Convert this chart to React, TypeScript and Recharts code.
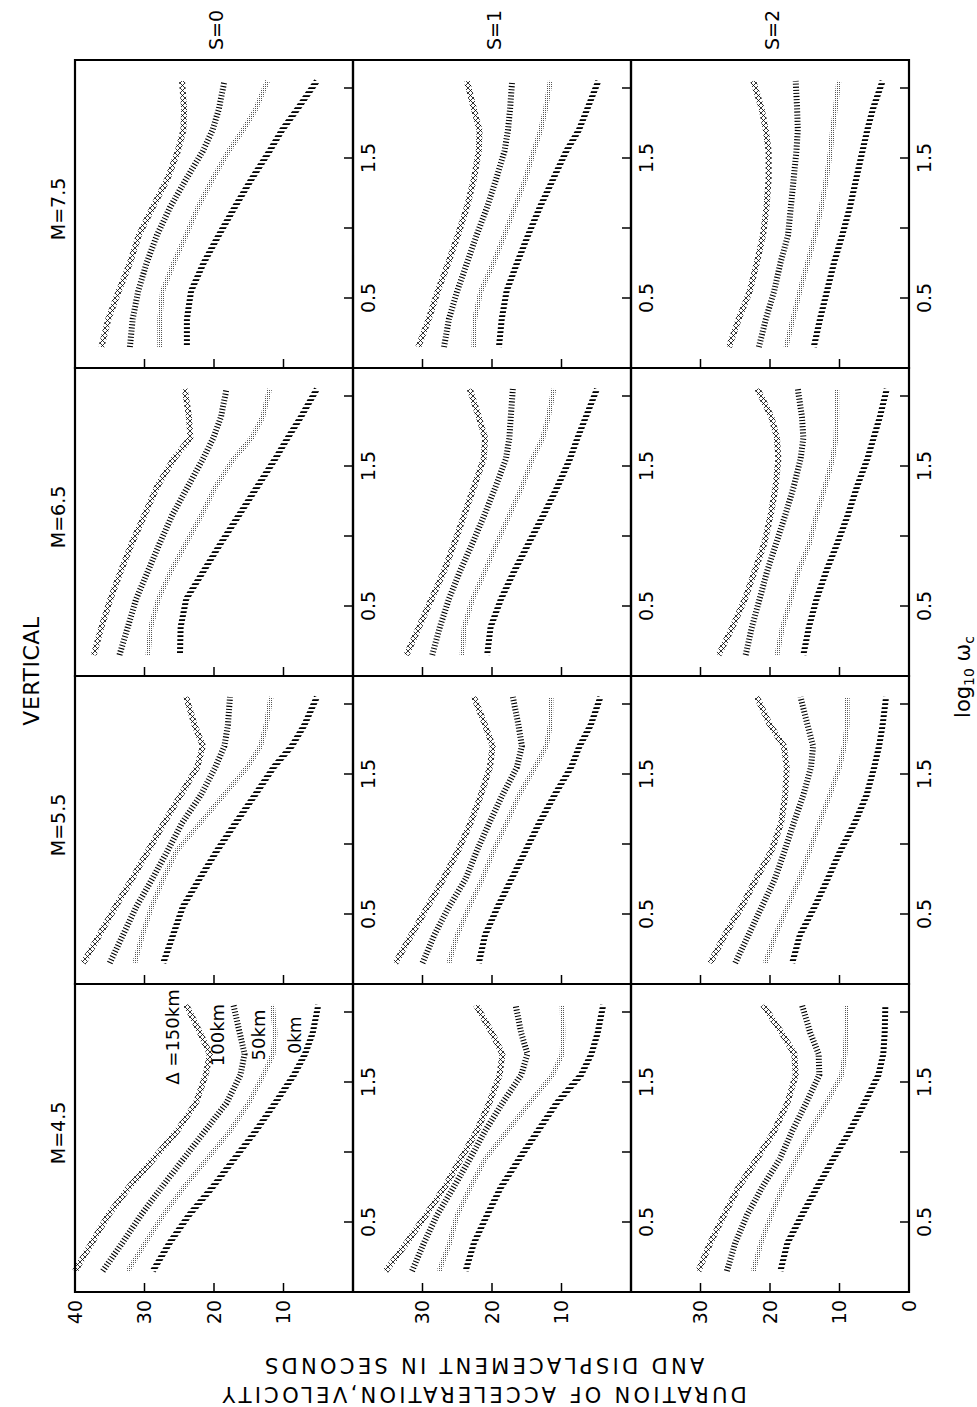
import React from "react";
import { LineChart, Line, XAxis, YAxis, ReferenceArea } from "recharts";

// log10 of the filter centre frequency, shared by every curve
const LOG_WC = [0.15, 0.35, 0.55, 0.75, 0.95, 1.15, 1.35, 1.55, 1.7, 1.85, 2.05];

const MAGNITUDES = ["M=4.5", "M=5.5", "M=6.5", "M=7.5"];
const SITES = ["S=0", "S=1", "S=2"];
const DIST_KEYS = ["d150", "d100", "d50", "d0"];
const X_TICKS = [0.5, 1, 1.5, 2];
const X_LABELS = [0.5, 1.5];
// duration tick labels only shown on the M=4.5 panels
const Y_TICKS_LABELLED = [
  [10, 20, 30, 40],
  [10, 20, 30],
  [0, 10, 20, 30],
];
const Y_TICKS = [10, 20, 30];

// duration (s) for Δ = 150, 100, 50, 0 km
const M45_S0 = [
  [40.0, 37.6, 35.2, 32.2, 28.7, 25.3, 22.6, 21.2, 20.6, 22.0, 24.0],
  [36.0, 33.2, 30.5, 27.5, 24.4, 21.3, 18.2, 16.2, 15.6, 16.3, 17.2],
  [32.4, 29.9, 27.3, 24.3, 21.0, 17.7, 15.0, 12.9, 11.5, 11.2, 11.6],
  [28.8, 26.4, 23.6, 20.2, 17.1, 14.0, 11.2, 8.5, 6.9, 5.8, 5.0],
];
const M45_S1 = [
  [35.3, 32.3, 29.5, 26.8, 24.5, 22.2, 20.4, 18.9, 18.5, 20.0, 22.3],
  [31.5, 29.8, 27.9, 25.5, 23.2, 21.0, 18.5, 15.8, 14.9, 15.8, 16.6],
  [27.6, 26.1, 25.0, 23.1, 21.0, 17.8, 14.6, 11.3, 9.9, 9.8, 9.9],
  [23.8, 22.6, 20.7, 18.7, 16.1, 13.4, 10.7, 7.2, 5.7, 4.8, 4.0],
];
const M45_S2 = [
  [30.3, 28.6, 26.6, 24.5, 21.9, 19.4, 17.5, 16.3, 16.5, 18.3, 21.0],
  [26.2, 25.0, 23.3, 21.1, 18.6, 16.8, 14.8, 12.9, 13.0, 14.2, 15.4],
  [22.4, 21.3, 19.8, 18.2, 16.2, 14.2, 11.9, 9.7, 9.2, 9.0, 9.0],
  [18.5, 17.5, 15.4, 13.2, 10.9, 8.5, 6.4, 4.4, 3.7, 3.5, 3.4],
];
const M55_S0 = [
  [38.8, 36.5, 34.2, 31.8, 29.5, 27.2, 24.8, 22.4, 21.6, 22.8, 24.0],
  [35.0, 33.1, 31.2, 28.9, 26.7, 24.6, 21.9, 19.8, 18.5, 18.0, 17.7],
  [31.4, 30.3, 29.0, 27.3, 25.4, 22.0, 18.6, 15.2, 13.3, 12.5, 11.8],
  [27.3, 25.9, 24.5, 22.1, 19.6, 16.9, 14.1, 11.4, 8.8, 7.0, 5.2],
];
const M55_S1 = [
  [33.9, 31.6, 29.3, 27.0, 24.9, 23.1, 21.6, 20.3, 19.9, 21.0, 22.6],
  [30.0, 28.3, 26.2, 23.8, 22.2, 20.4, 18.5, 16.4, 15.7, 16.2, 17.0],
  [26.2, 25.0, 23.3, 21.4, 19.8, 17.9, 16.1, 13.8, 12.2, 11.6, 11.5],
  [21.9, 21.0, 19.2, 17.2, 15.2, 13.2, 11.0, 8.6, 7.4, 5.8, 4.4],
];
const M55_S2 = [
  [28.6, 26.5, 24.1, 22.0, 19.8, 18.4, 17.8, 17.6, 18.0, 20.0, 21.9],
  [25.0, 23.1, 21.2, 19.3, 17.9, 16.6, 15.2, 14.1, 13.8, 14.6, 15.6],
  [20.7, 19.2, 17.5, 15.8, 14.3, 12.9, 11.4, 10.0, 9.3, 8.9, 8.9],
  [16.8, 15.7, 13.6, 11.7, 9.9, 7.8, 6.1, 5.0, 4.3, 3.8, 3.3],
];
const M65_S0 = [
  [37.3, 36.2, 34.9, 33.4, 31.8, 30.0, 28.2, 25.8, 23.4, 23.6, 24.2],
  [33.6, 32.4, 31.2, 29.5, 27.8, 26.0, 23.8, 21.6, 20.1, 19.0, 18.2],
  [29.5, 29.1, 28.0, 26.2, 24.0, 21.8, 19.8, 17.2, 14.6, 13.0, 12.0],
  [24.9, 24.8, 24.0, 21.5, 19.0, 16.4, 13.8, 11.2, 9.4, 7.5, 5.2],
];
const M65_S1 = [
  [32.3, 30.5, 28.7, 26.9, 25.4, 24.0, 22.6, 21.2, 21.0, 21.9, 23.2],
  [28.6, 27.5, 26.2, 24.6, 22.8, 21.1, 19.5, 18.0, 17.5, 17.3, 17.0],
  [24.3, 24.0, 22.8, 21.0, 19.3, 17.5, 15.7, 14.2, 12.7, 11.9, 11.1],
  [20.7, 20.2, 18.7, 16.8, 14.7, 12.6, 10.6, 8.8, 7.7, 6.5, 4.9],
];
const M65_S2 = [
  [27.4, 25.4, 23.6, 22.2, 20.8, 19.9, 19.2, 18.8, 19.0, 19.8, 21.8],
  [23.5, 22.6, 21.5, 20.4, 19.1, 17.8, 16.6, 15.6, 15.2, 15.4, 16.0],
  [19.0, 18.2, 17.0, 15.9, 14.3, 13.3, 12.1, 11.0, 10.5, 10.4, 10.4],
  [15.2, 14.4, 13.3, 11.9, 10.3, 8.8, 7.5, 6.0, 5.1, 4.2, 3.2],
];
const M75_S0 = [
  [36.2, 35.2, 33.7, 32.1, 30.8, 28.8, 26.7, 25.2, 24.4, 24.3, 24.6],
  [32.1, 31.7, 30.9, 29.7, 28.2, 26.3, 24.0, 21.6, 20.2, 19.3, 18.5],
  [27.8, 27.8, 27.4, 25.8, 24.0, 22.3, 20.2, 17.9, 15.8, 14.0, 12.3],
  [23.9, 23.9, 23.3, 21.5, 19.3, 17.0, 14.6, 12.0, 10.2, 8.0, 5.2],
];
const M75_S1 = [
  [30.6, 29.1, 27.8, 26.3, 24.9, 23.6, 22.6, 21.9, 21.8, 22.6, 23.6],
  [26.9, 26.2, 25.0, 23.6, 22.2, 20.7, 19.4, 18.2, 17.7, 17.4, 17.1],
  [22.6, 22.5, 21.6, 19.8, 18.2, 16.7, 15.2, 14.0, 13.0, 12.3, 11.6],
  [19.0, 18.6, 17.9, 16.4, 14.8, 13.1, 11.2, 9.3, 7.5, 6.3, 4.7],
];
const M75_S2 = [
  [25.9, 24.5, 22.9, 21.9, 21.0, 20.5, 20.2, 20.2, 20.6, 21.2, 22.4],
  [21.6, 20.6, 19.4, 18.5, 17.4, 17.0, 16.6, 16.2, 16.0, 16.1, 16.3],
  [17.7, 16.7, 15.7, 14.6, 13.5, 12.6, 11.9, 11.3, 11.0, 10.6, 10.1],
  [13.7, 12.8, 11.8, 10.8, 9.6, 8.5, 7.6, 6.7, 6.0, 5.2, 3.8],
];

const PANELS = [
  [M45_S0, M45_S1, M45_S2],
  [M55_S0, M55_S1, M55_S2],
  [M65_S0, M65_S1, M65_S2],
  [M75_S0, M75_S1, M75_S2],
];

// the figure is drawn upright and then turned a quarter turn, like the page
const PAGE_W = 977;
const PAGE_H = 1407;
const PANEL_W = 308;
const PANEL_H = 278;
const COL_X = [115, 423, 731, 1039];
const ROW_Y = [75, 353, 631];
const AXIS_W = 45;
const AXIS_H = 40;
const PAD = 10;
const FONT = "DejaVu Sans";

const LINE_STYLES = [
  { stroke: "url(#xhatch)", width: 6, dash: undefined },
  { stroke: "#000", width: 6, dash: "1.1 2" },
  { stroke: "url(#stipple)", width: 5, dash: undefined },
  { stroke: "url(#bars)", width: 6, dash: undefined },
];

const tickStyle = { fontSize: 19, fill: "#000", fontFamily: FONT };

function Panel({ m, s }: { m: number; s: number }) {
  const rows = PANELS[m][s];
  const data = LOG_WC.map((x, i) => ({
    x,
    d150: rows[0][i],
    d100: rows[1][i],
    d50: rows[2][i],
    d0: rows[3][i],
  }));
  const labelled = m === 0;
  return (
    <div style={{ position: "absolute", left: COL_X[m] - AXIS_W, top: ROW_Y[s] - PAD }}>
      <LineChart
        width={AXIS_W + PANEL_W + PAD}
        height={PAD + PANEL_H + AXIS_H}
        data={data}
        margin={{ top: PAD, right: PAD, bottom: 0, left: 0 }}
      >
        <XAxis
          type="number"
          dataKey="x"
          domain={[0, 2.2]}
          ticks={X_TICKS}
          interval={0}
          height={AXIS_H}
          axisLine={false}
          tickSize={-9}
          tickMargin={18}
          tickLine={{ stroke: "#000", strokeWidth: 1.5 }}
          tick={tickStyle}
          tickFormatter={(v: number) => (X_LABELS.includes(v) ? String(v) : "")}
        />
        <YAxis
          type="number"
          domain={[0, 40]}
          ticks={labelled ? Y_TICKS_LABELLED[s] : Y_TICKS}
          interval={0}
          width={AXIS_W}
          axisLine={false}
          tickSize={-9}
          tickMargin={17}
          tickLine={{ stroke: "#000", strokeWidth: 1.5 }}
          tick={tickStyle}
          tickFormatter={(v: number) => (labelled ? String(v) : "")}
        />
        <ReferenceArea
          x1={0}
          x2={2.2}
          y1={0}
          y2={40}
          fill="none"
          stroke="#000"
          strokeWidth={2.2}
          ifOverflow="visible"
        />
        {DIST_KEYS.map((key, i) => (
          <Line
            key={key}
            type="linear"
            dataKey={key}
            stroke={LINE_STYLES[i].stroke}
            strokeWidth={LINE_STYLES[i].width}
            strokeDasharray={LINE_STYLES[i].dash}
            strokeLinecap="butt"
            dot={false}
            activeDot={false}
            isAnimationActive={false}
          />
        ))}
      </LineChart>
    </div>
  );
}

export default function App() {
  const textProps = { fontFamily: FONT, fill: "#000", textAnchor: "middle" as const, dominantBaseline: "central" as const };
  return (
    <div
      style={{
        position: "absolute",
        left: 0,
        top: 0,
        width: PAGE_W,
        height: PAGE_H,
        overflow: "hidden",
        background: "#fff",
      }}
    >
      <div
        style={{
          position: "absolute",
          left: 0,
          top: 0,
          width: PAGE_H,
          height: PAGE_W,
          transformOrigin: "0 0",
          transform: `translateY(${PAGE_H}px) rotate(-90deg)`,
        }}
      >
        <svg width={PAGE_H} height={PAGE_W} style={{ position: "absolute", left: 0, top: 0 }}>
          <defs>
            <pattern id="bars" width="4" height="8" patternUnits="userSpaceOnUse">
              <rect x="0" y="0" width="1.8" height="8" fill="#000" />
            </pattern>
            <pattern id="xhatch" width="5" height="5" patternUnits="userSpaceOnUse">
              <path d="M0,0 L5,5 M5,0 L0,5" stroke="#000" strokeWidth="0.8" />
            </pattern>
            <pattern id="stipple" width="2" height="2" patternUnits="userSpaceOnUse">
              <rect x="0" y="0" width="1" height="1" fill="#555" />
            </pattern>
          </defs>

          <text {...textProps} x={736} y={31} fontSize={22} letterSpacing={0.5}>
            VERTICAL
          </text>
          {MAGNITUDES.map((m, i) => (
            <text key={m} {...textProps} x={COL_X[i] + PANEL_W / 2 + 5} y={58} fontSize={19}>
              {m}
            </text>
          ))}
          {SITES.map((s, i) => (
            <text key={s} {...textProps} x={1377} y={ROW_Y[i] + PANEL_H / 2 + 2} fontSize={19}>
              {s}
            </text>
          ))}
          <text {...textProps} x={730} y={963} fontSize={21}>
            log<tspan fontSize={14} dy={6}>10</tspan>
            <tspan dy={-6}> ω</tspan>
            <tspan fontSize={14} dy={6}>c</tspan>
          </text>
          <text {...textProps} transform="translate(13,483) rotate(-90)" fontSize={21} letterSpacing={3.3}>
            DURATION OF ACCELERATION,VELOCITY
          </text>
          <text {...textProps} transform="translate(42,483) rotate(-90)" fontSize={21} letterSpacing={3.3}>
            AND DISPLACEMENT IN SECONDS
          </text>
        </svg>

        {PANELS.map((cols, m) => cols.map((_, s) => <Panel key={`${m}-${s}`} m={m} s={s} />))}

        <svg width={PAGE_H} height={PAGE_W} style={{ position: "absolute", left: 0, top: 0, pointerEvents: "none" }}>
          <text {...textProps} x={370} y={172} fontSize={18}>
            Δ =150km
          </text>
          <text {...textProps} x={372} y={217} fontSize={18}>
            100km
          </text>
          <text {...textProps} x={372} y={258} fontSize={18}>
            50km
          </text>
          <text {...textProps} x={372} y={295} fontSize={17}>
            0km
          </text>
        </svg>
      </div>
    </div>
  );
}
